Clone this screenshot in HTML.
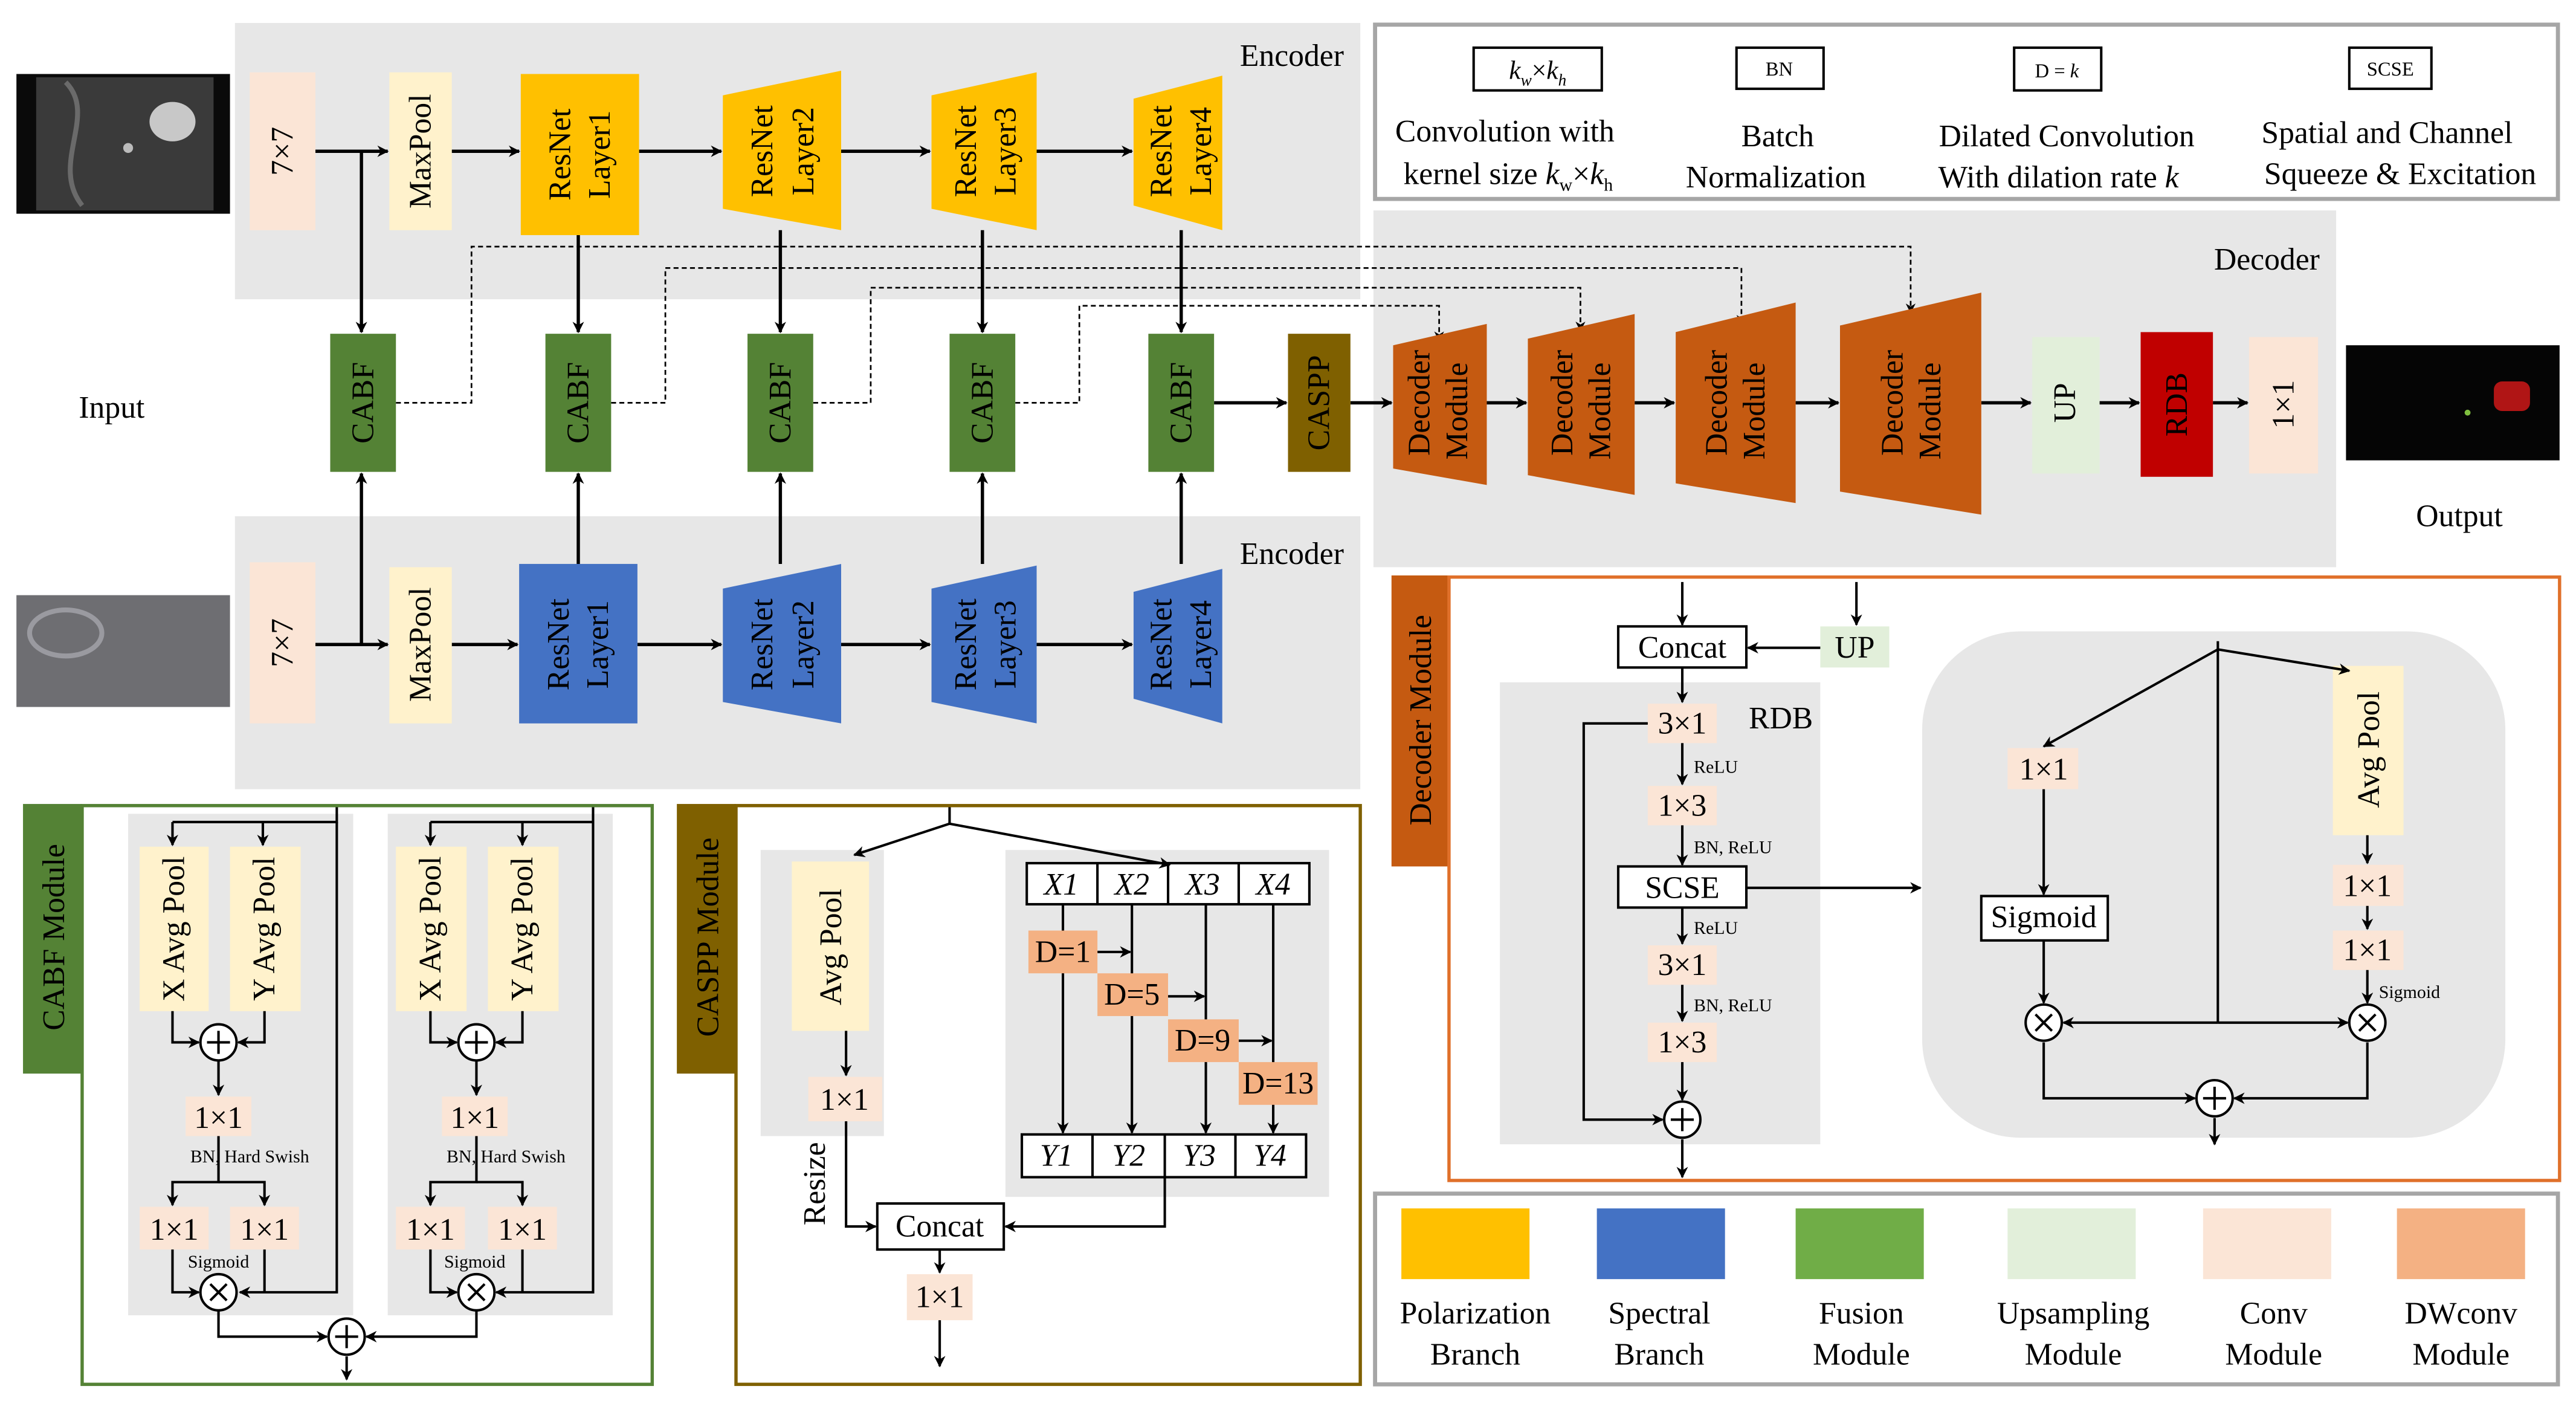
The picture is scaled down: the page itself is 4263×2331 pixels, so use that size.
<!DOCTYPE html>
<html><head><meta charset="utf-8"><style>
html,body{margin:0;padding:0;background:#fff}
svg{display:block}
svg, svg text{font-family:"Liberation Serif","DejaVu Serif",serif;fill:#000}
</style></head><body>
<svg width="4263" height="2331" viewBox="0 0 1568 857" preserveAspectRatio="none" xmlns="http://www.w3.org/2000/svg" font-family="Liberation Serif, serif">
<defs>
<marker id="a" viewBox="0 0 10 10" refX="9" refY="5" markerWidth="7" markerHeight="7" orient="auto" markerUnits="userSpaceOnUse"><path d="M0,0 L10,5 L0,10 L3,5 z" fill="#000"/></marker>
<marker id="s" viewBox="0 0 10 10" refX="9" refY="5" markerWidth="6" markerHeight="6" orient="auto" markerUnits="userSpaceOnUse"><path d="M0,0 L10,5 L0,10 L3,5 z" fill="#000"/></marker>
</defs>
<rect width="1568" height="857" fill="#fff"/>

<rect x="143" y="14" width="685" height="168" fill="#e7e7e7"/>
<rect x="143" y="314" width="685" height="166" fill="#e7e7e7"/>
<rect x="836" y="128" width="586" height="217" fill="#e7e7e7"/>
<text x="818" y="40" font-size="19" text-anchor="end">Encoder</text>
<text x="818" y="343" font-size="19" text-anchor="end">Encoder</text>
<text x="1412" y="164" font-size="19" text-anchor="end">Decoder</text>

<rect x="837" y="15" width="720" height="106" fill="#fff" stroke="#a6a6a6" stroke-width="2.5"/>
<rect x="897" y="29" width="78" height="26" fill="#fff" stroke="#000" stroke-width="1.5"/>
<text x="936" y="48" font-size="16" text-anchor="middle" font-style="italic">k<tspan font-size="10" dy="4">w</tspan><tspan dy="-4" font-style="normal">×</tspan>k<tspan font-size="10" dy="4">h</tspan></text>
<rect x="1057" y="29" width="53" height="25" fill="#fff" stroke="#000" stroke-width="1.5"/>
<text x="1083" y="46" font-size="12" text-anchor="middle">BN</text>
<rect x="1226" y="29" width="53" height="26" fill="#fff" stroke="#000" stroke-width="1.5"/>
<text x="1252" y="47" font-size="12" text-anchor="middle">D = <tspan font-style="italic">k</tspan></text>
<rect x="1430" y="29" width="50" height="25" fill="#fff" stroke="#000" stroke-width="1.5"/>
<text x="1455" y="46" font-size="12" text-anchor="middle">SCSE</text>
<g font-size="19" text-anchor="middle">
<text x="916" y="86">Convolution with</text>
<text x="918" y="112">kernel size  <tspan font-style="italic">k</tspan><tspan font-size="11" dy="4">w</tspan><tspan dy="-4">×</tspan><tspan font-style="italic">k</tspan><tspan font-size="11" dy="4">h</tspan></text>
<text x="1082" y="89">Batch</text>
<text x="1081" y="114">Normalization</text>
<text x="1258" y="89">Dilated Convolution</text>
<text x="1253" y="114">With dilation rate  <tspan font-style="italic">k</tspan></text>
<text x="1453" y="87">Spatial and Channel</text>
<text x="1461" y="112">Squeeze &amp; Excitation</text>
</g>

<rect x="10" y="45" width="130" height="85" fill="#0a0a0a"/>
<rect x="22" y="47" width="108" height="81" fill="#3a3a3a"/>
<path d="M40,50 C60,70 30,100 50,125" stroke="#6a6a6a" stroke-width="3" fill="none"/>
<ellipse cx="105" cy="74" rx="14" ry="12" fill="#c8c8c8"/>
<circle cx="78" cy="90" r="3" fill="#bbb"/>
<rect x="10" y="362" width="130" height="68" fill="#6e6e72"/>
<ellipse cx="40" cy="385" rx="22" ry="14" fill="none" stroke="#9a9aa0" stroke-width="3"/>
<text x="68" y="254" font-size="19" text-anchor="middle">Input</text>
<rect x="1428" y="210" width="130" height="70" fill="#050505"/>
<rect x="1518" y="232" width="22" height="18" rx="5" fill="#b01515"/>
<circle cx="1502" cy="251" r="1.8" fill="#7fbf3f"/>
<text x="1497" y="320" font-size="19" text-anchor="middle">Output</text>

<g stroke="#000" stroke-width="2" fill="none" marker-end="url(#a)">
<line x1="192" y1="92" x2="236" y2="92"/>
<line x1="275" y1="92" x2="316" y2="92"/>
<line x1="389" y1="92" x2="439" y2="92"/>
<line x1="512" y1="92" x2="566" y2="92"/>
<line x1="631" y1="92" x2="689" y2="92"/>
<line x1="192" y1="392" x2="236" y2="392"/>
<line x1="275" y1="392" x2="315" y2="392"/>
<line x1="388" y1="392" x2="439" y2="392"/>
<line x1="512" y1="392" x2="566" y2="392"/>
<line x1="631" y1="392" x2="689" y2="392"/>
<line x1="220" y1="92" x2="220" y2="202"/>
<line x1="220" y1="392" x2="220" y2="288"/>
<line x1="352" y1="143" x2="352" y2="202"/>
<line x1="352" y1="343" x2="352" y2="288"/>
<line x1="475" y1="140" x2="475" y2="202"/>
<line x1="475" y1="343" x2="475" y2="288"/>
<line x1="598" y1="140" x2="598" y2="202"/>
<line x1="598" y1="343" x2="598" y2="288"/>
<line x1="719" y1="140" x2="719" y2="202"/>
<line x1="719" y1="343" x2="719" y2="288"/>
<line x1="739" y1="245" x2="783" y2="245"/>
<line x1="822" y1="245" x2="847" y2="245"/>
<line x1="905" y1="245" x2="929" y2="245"/>
<line x1="995" y1="245" x2="1019" y2="245"/>
<line x1="1093" y1="245" x2="1119" y2="245"/>
<line x1="1206" y1="245" x2="1236" y2="245"/>
<line x1="1278" y1="245" x2="1302" y2="245"/>
<line x1="1347" y1="245" x2="1368" y2="245"/>
</g>
<g stroke="#000" stroke-width="1" fill="none" stroke-dasharray="3,2" marker-end="url(#s)">
<polyline points="241,245 287,245 287,150 1163,150 1163,190"/>
<polyline points="372,245 405,245 405,163 1060,163 1060,197"/>
<polyline points="495,245 530,245 530,175 962,175 962,201"/>
<polyline points="618,245 657,245 657,186 876,186 876,207"/>
</g>

<rect x="152" y="44" width="40" height="96" fill="#fbe5d6"/>
<rect x="237" y="44" width="38" height="96" fill="#fff2cc"/>
<rect x="317" y="45" width="72" height="98" fill="#ffc000"/>
<polygon points="440,58 512,43 512,140 440,127" fill="#ffc000"/>
<polygon points="567,58 631,44 631,140 567,127" fill="#ffc000"/>
<polygon points="690,60 744,46 744,140 690,125" fill="#ffc000"/>
<rect x="152" y="342" width="40" height="98" fill="#fbe5d6"/>
<rect x="237" y="345" width="38" height="95" fill="#fff2cc"/>
<rect x="316" y="343" width="72" height="97" fill="#4472c4"/>
<polygon points="440,358 512,343 512,440 440,427" fill="#4472c4"/>
<polygon points="567,358 631,344 631,440 567,427" fill="#4472c4"/>
<polygon points="690,360 744,346 744,440 690,425" fill="#4472c4"/>
<g font-size="19" text-anchor="middle" dominant-baseline="central">
<text transform="translate(172,92) rotate(-90)">7×7</text>
<text transform="translate(256,92) rotate(-90)">MaxPool</text>
<text transform="translate(341,94) rotate(-90)">ResNet</text><text transform="translate(365,94) rotate(-90)">Layer1</text>
<text transform="translate(464,92) rotate(-90)">ResNet</text><text transform="translate(489,92) rotate(-90)">Layer2</text>
<text transform="translate(588,92) rotate(-90)">ResNet</text><text transform="translate(612,92) rotate(-90)">Layer3</text>
<text transform="translate(707,92) rotate(-90)">ResNet</text><text transform="translate(731,92) rotate(-90)">Layer4</text>
<text transform="translate(172,391) rotate(-90)">7×7</text>
<text transform="translate(256,392) rotate(-90)">MaxPool</text>
<text transform="translate(340,392) rotate(-90)">ResNet</text><text transform="translate(364,392) rotate(-90)">Layer1</text>
<text transform="translate(464,392) rotate(-90)">ResNet</text><text transform="translate(489,392) rotate(-90)">Layer2</text>
<text transform="translate(588,392) rotate(-90)">ResNet</text><text transform="translate(612,392) rotate(-90)">Layer3</text>
<text transform="translate(707,392) rotate(-90)">ResNet</text><text transform="translate(731,392) rotate(-90)">Layer4</text>
</g>

<g fill="#548235">
<rect x="201" y="203" width="40" height="84"/>
<rect x="332" y="203" width="40" height="84"/>
<rect x="455" y="203" width="40" height="84"/>
<rect x="578" y="203" width="40" height="84"/>
<rect x="699" y="203" width="40" height="84"/>
</g>
<rect x="784" y="203" width="38" height="84" fill="#7f6000"/>
<g font-size="19" text-anchor="middle" dominant-baseline="central">
<text transform="translate(221,245) rotate(-90)">CABF</text>
<text transform="translate(352,245) rotate(-90)">CABF</text>
<text transform="translate(475,245) rotate(-90)">CABF</text>
<text transform="translate(598,245) rotate(-90)">CABF</text>
<text transform="translate(719,245) rotate(-90)">CABF</text>
<text transform="translate(803,245) rotate(-90)">CASPP</text>
</g>

<g fill="#c55a11">
<polygon points="848,210 905,197 905,295 848,285"/>
<polygon points="930,206 995,191 995,301 930,289"/>
<polygon points="1020,202 1093,184 1093,306 1020,294"/>
<polygon points="1120,198 1206,178 1206,313 1120,299"/>
</g>
<rect x="1237" y="205" width="41" height="83" fill="#e2efda"/>
<rect x="1303" y="202" width="44" height="88" fill="#c00000"/>
<rect x="1369" y="205" width="42" height="83" fill="#fbe5d6"/>
<g font-size="19" text-anchor="middle" dominant-baseline="central">
<text transform="translate(864,245) rotate(-90)">Decoder</text><text transform="translate(887,250) rotate(-90)">Module</text>
<text transform="translate(951,245) rotate(-90)">Decoder</text><text transform="translate(974,250) rotate(-90)">Module</text>
<text transform="translate(1045,245) rotate(-90)">Decoder</text><text transform="translate(1068,250) rotate(-90)">Module</text>
<text transform="translate(1152,245) rotate(-90)">Decoder</text><text transform="translate(1175,250) rotate(-90)">Module</text>
<text transform="translate(1257,245) rotate(-90)">UP</text>
<text transform="translate(1325,246) rotate(-90)">RDB</text>
<text transform="translate(1390,246) rotate(-90)">1×1</text>
</g>

<!-- CABF Module -->
<rect x="14" y="489" width="36" height="164" fill="#548235"/>
<text transform="translate(33,570) rotate(-90)" font-size="19" text-anchor="middle" dominant-baseline="central">CABF Module</text>
<rect x="50" y="490" width="347" height="352" fill="none" stroke="#548235" stroke-width="2"/>
<rect x="78" y="495" width="137" height="305" fill="#e7e7e7"/>
<rect x="236" y="495" width="137" height="305" fill="#e7e7e7"/>
<g fill="#fff2cc"><rect x="85" y="515" width="42" height="100"/><rect x="140" y="515" width="43" height="100"/><rect x="241" y="515" width="43" height="100"/><rect x="297" y="515" width="43" height="100"/></g>
<g fill="#fbe5d6"><rect x="113" y="667" width="40" height="24"/><rect x="85" y="734" width="42" height="26"/><rect x="140" y="734" width="42" height="26"/><rect x="269" y="667" width="40" height="24"/><rect x="241" y="734" width="42" height="26"/><rect x="297" y="734" width="42" height="26"/></g>
<g font-size="19" text-anchor="middle" dominant-baseline="central">
<text transform="translate(106,565) rotate(-90)">X Avg Pool</text>
<text transform="translate(161,565) rotate(-90)">Y Avg Pool</text>
<text transform="translate(262,565) rotate(-90)">X Avg Pool</text>
<text transform="translate(318,565) rotate(-90)">Y Avg Pool</text>
<text x="133" y="680">1×1</text><text x="106" y="748">1×1</text><text x="161" y="748">1×1</text>
<text x="289" y="680">1×1</text><text x="262" y="748">1×1</text><text x="318" y="748">1×1</text>
</g>
<g font-size="11" text-anchor="middle"><text x="152" y="707">BN, Hard Swish</text><text x="308" y="707">BN, Hard Swish</text><text x="133" y="771">Sigmoid</text><text x="289" y="771">Sigmoid</text></g>
<g stroke="#000" stroke-width="1.5" fill="none">
<polyline points="205,491 205,500 105,500" /><polyline points="205,500 205,786 146,786" marker-end="url(#a)"/>
<line x1="105" y1="500" x2="105" y2="514" marker-end="url(#a)"/><line x1="160" y1="500" x2="160" y2="514" marker-end="url(#a)"/>
<polyline points="105,615 105,634 121,634" marker-end="url(#a)"/><polyline points="161,615 161,634 145,634" marker-end="url(#a)"/>
<line x1="133" y1="645" x2="133" y2="666" marker-end="url(#a)"/>
<polyline points="133,691 133,719 105,719 105,733" marker-end="url(#a)"/><polyline points="133,719 161,719 161,733" marker-end="url(#a)"/>
<polyline points="105,760 105,786 121,786" marker-end="url(#a)"/><line x1="161" y1="760" x2="161" y2="786"/>
<polyline points="361,491 361,500 262,500"/><polyline points="361,500 361,786 302,786" marker-end="url(#a)"/>
<line x1="262" y1="500" x2="262" y2="514" marker-end="url(#a)"/><line x1="318" y1="500" x2="318" y2="514" marker-end="url(#a)"/>
<polyline points="262,615 262,634 278,634" marker-end="url(#a)"/><polyline points="318,615 318,634 302,634" marker-end="url(#a)"/>
<line x1="290" y1="645" x2="290" y2="666" marker-end="url(#a)"/>
<polyline points="290,691 290,719 262,719 262,733" marker-end="url(#a)"/><polyline points="290,719 318,719 318,733" marker-end="url(#a)"/>
<polyline points="262,760 262,786 278,786" marker-end="url(#a)"/><line x1="318" y1="760" x2="318" y2="786"/>
<polyline points="133,797 133,813 199,813" marker-end="url(#a)"/><polyline points="290,797 290,813 223,813" marker-end="url(#a)"/>
<line x1="211" y1="825" x2="211" y2="839" marker-end="url(#a)"/>
</g>
<g fill="#fff" stroke="#000" stroke-width="1.5">
<circle cx="133" cy="634" r="11"/><circle cx="290" cy="634" r="11"/><circle cx="133" cy="786" r="11"/><circle cx="290" cy="786" r="11"/><circle cx="211" cy="813" r="11"/>
</g>
<g stroke="#000" stroke-width="1.5">
<path d="M126,634h14M133,627v14M283,634h14M290,627v14M204,813h14M211,806v14M128,781l10,10M138,781l-10,10M285,781l10,10M295,781l-10,10"/>
</g>

<!-- CASPP Module -->
<rect x="412" y="489" width="36" height="164" fill="#7f6000"/>
<text transform="translate(431,570) rotate(-90)" font-size="19" text-anchor="middle" dominant-baseline="central">CASPP Module</text>
<rect x="448" y="490" width="380" height="352" fill="none" stroke="#7f6000" stroke-width="2"/>
<rect x="463" y="517" width="75" height="174" fill="#e7e7e7"/>
<rect x="612" y="517" width="197" height="211" fill="#e7e7e7"/>
<rect x="482" y="524" width="47" height="103" fill="#fff2cc"/>
<rect x="492" y="655" width="45" height="27" fill="#fbe5d6"/>
<rect x="552" y="775" width="40" height="28" fill="#fbe5d6"/>
<g fill="#fff" stroke="#000" stroke-width="1.5">
<rect x="625" y="525" width="172" height="25"/><rect x="622" y="690" width="173" height="26"/><rect x="534" y="732" width="77" height="28"/>
</g>
<g stroke="#000" stroke-width="1.5"><path d="M668,525v25M711,525v25M754,525v25M665,690v26M709,690v26M752,690v26"/></g>
<g font-size="19" text-anchor="middle" dominant-baseline="central">
<text transform="translate(506,576) rotate(-90)">Avg Pool</text>
<text x="514" y="669">1×1</text><text x="572" y="789">1×1</text><text x="572" y="746">Concat</text>
<g font-style="italic"><text x="646" y="538">X1</text><text x="689" y="538">X2</text><text x="732" y="538">X3</text><text x="775" y="538">X4</text>
<text x="643" y="703">Y1</text><text x="687" y="703">Y2</text><text x="730" y="703">Y3</text><text x="773" y="703">Y4</text></g>
<text transform="translate(496,720) rotate(-90)">Resize</text>
</g>
<g stroke="#000" stroke-width="1.5" fill="none">
<line x1="578" y1="491" x2="578" y2="501"/>
<line x1="578" y1="501" x2="520" y2="520" marker-end="url(#a)"/><line x1="578" y1="501" x2="712" y2="526" marker-end="url(#a)"/>
<line x1="647" y1="550" x2="647" y2="689" marker-end="url(#a)"/>
<line x1="689" y1="550" x2="689" y2="689" marker-end="url(#a)"/>
<line x1="734" y1="550" x2="734" y2="689" marker-end="url(#a)"/>
<line x1="775" y1="550" x2="775" y2="689" marker-end="url(#a)"/>
<line x1="668" y1="579" x2="688" y2="579" marker-end="url(#a)"/>
<line x1="711" y1="606" x2="733" y2="606" marker-end="url(#a)"/>
<line x1="754" y1="633" x2="774" y2="633" marker-end="url(#a)"/>
<line x1="515" y1="627" x2="515" y2="654" marker-end="url(#a)"/>
<polyline points="515,682 515,746 533,746" marker-end="url(#a)"/>
<polyline points="709,716 709,746 612,746" marker-end="url(#a)"/>
<line x1="572" y1="760" x2="572" y2="774" marker-end="url(#a)"/>
<line x1="572" y1="803" x2="572" y2="831" marker-end="url(#a)"/>
</g>
<g fill="#f4b183"><rect x="626" y="566" width="42" height="26"/><rect x="668" y="592" width="43" height="26"/><rect x="711" y="620" width="43" height="26"/><rect x="754" y="646" width="48" height="26"/></g>
<g font-size="19" text-anchor="middle" dominant-baseline="central">
<text x="647" y="579">D=1</text><text x="689" y="605">D=5</text><text x="732" y="633">D=9</text><text x="778" y="659">D=13</text>
</g>

<!-- Decoder Module -->
<rect x="847" y="350" width="35" height="177" fill="#c55a11"/>
<text transform="translate(865,438) rotate(-90)" font-size="19" text-anchor="middle" dominant-baseline="central">Decoder Module</text>
<rect x="882" y="351" width="676" height="367" fill="none" stroke="#e0702a" stroke-width="2"/>
<rect x="913" y="415" width="195" height="281" fill="#e7e7e7"/>
<rect x="1170" y="384" width="355" height="308" rx="60" fill="#e7e7e7"/>
<rect x="1108" y="381" width="42" height="25" fill="#e2efda"/>
<g fill="#fbe5d6"><rect x="1003" y="428" width="42" height="24"/><rect x="1003" y="478" width="42" height="24"/><rect x="1003" y="575" width="42" height="24"/><rect x="1003" y="622" width="42" height="24"/><rect x="1222" y="455" width="43" height="25"/><rect x="1420" y="526" width="43" height="25"/><rect x="1420" y="566" width="43" height="24"/></g>
<rect x="1420" y="405" width="43" height="103" fill="#fff2cc"/>
<g fill="#fff" stroke="#000" stroke-width="1.5"><rect x="985" y="381" width="78" height="25"/><rect x="985" y="527" width="78" height="25"/><rect x="1206" y="545" width="77" height="27"/></g>
<g font-size="19" text-anchor="middle" dominant-baseline="central">
<text x="1024" y="394">Concat</text><text x="1129" y="394">UP</text>
<text x="1024" y="440">3×1</text><text x="1024" y="490">1×3</text><text x="1024" y="540">SCSE</text><text x="1024" y="587">3×1</text><text x="1024" y="634">1×3</text>
<text x="1084" y="437">RDB</text>
<text x="1244" y="468">1×1</text><text x="1244" y="558">Sigmoid</text>
<text x="1441" y="539">1×1</text><text x="1441" y="578">1×1</text>
<text transform="translate(1442,456) rotate(-90)">Avg Pool</text>
</g>
<g font-size="11"><text x="1031" y="470">ReLU</text><text x="1031" y="519">BN, ReLU</text><text x="1031" y="568">ReLU</text><text x="1031" y="615">BN, ReLU</text><text x="1448" y="607">Sigmoid</text></g>
<g stroke="#000" stroke-width="1.5" fill="none">
<line x1="1024" y1="354" x2="1024" y2="380" marker-end="url(#a)"/>
<line x1="1130" y1="354" x2="1130" y2="380" marker-end="url(#a)"/>
<line x1="1108" y1="394" x2="1064" y2="394" marker-end="url(#a)"/>
<line x1="1024" y1="406" x2="1024" y2="427" marker-end="url(#a)"/>
<line x1="1024" y1="452" x2="1024" y2="477" marker-end="url(#a)"/>
<line x1="1024" y1="502" x2="1024" y2="526" marker-end="url(#a)"/>
<line x1="1024" y1="552" x2="1024" y2="574" marker-end="url(#a)"/>
<line x1="1024" y1="599" x2="1024" y2="621" marker-end="url(#a)"/>
<line x1="1024" y1="646" x2="1024" y2="669" marker-end="url(#a)"/>
<polyline points="1003,440 964,440 964,681 1012,681" marker-end="url(#a)"/>
<line x1="1024" y1="693" x2="1024" y2="716" marker-end="url(#a)"/>
<line x1="1063" y1="540" x2="1169" y2="540" marker-end="url(#a)"/>
<line x1="1350" y1="390" x2="1350" y2="622"/>
<line x1="1350" y1="395" x2="1244" y2="454" marker-end="url(#a)"/>
<line x1="1350" y1="395" x2="1430" y2="408" marker-end="url(#a)"/>
<line x1="1244" y1="480" x2="1244" y2="544" marker-end="url(#a)"/>
<line x1="1244" y1="572" x2="1244" y2="610" marker-end="url(#a)"/>
<line x1="1441" y1="508" x2="1441" y2="525" marker-end="url(#a)"/>
<line x1="1441" y1="551" x2="1441" y2="565" marker-end="url(#a)"/>
<line x1="1441" y1="590" x2="1441" y2="610" marker-end="url(#a)"/>
<line x1="1350" y1="622" x2="1256" y2="622" marker-end="url(#a)"/>
<line x1="1350" y1="622" x2="1429" y2="622" marker-end="url(#a)"/>
<polyline points="1244,634 1244,668 1336,668" marker-end="url(#a)"/>
<polyline points="1441,634 1441,668 1360,668" marker-end="url(#a)"/>
<line x1="1348" y1="680" x2="1348" y2="696" marker-end="url(#a)"/>
</g>
<g fill="#fff" stroke="#000" stroke-width="1.5"><circle cx="1024" cy="681" r="11"/><circle cx="1244" cy="622" r="11"/><circle cx="1441" cy="622" r="11"/><circle cx="1348" cy="668" r="11"/></g>
<g stroke="#000" stroke-width="1.5"><path d="M1017,681h14M1024,674v14M1341,668h14M1348,661v14M1239,617l10,10M1249,617l-10,10M1436,617l10,10M1446,617l-10,10"/></g>

<rect x="837" y="726" width="720" height="116" fill="#fff" stroke="#a6a6a6" stroke-width="2.5"/>
<rect x="853" y="735" width="78" height="43" fill="#ffc000"/>
<rect x="972" y="735" width="78" height="43" fill="#4472c4"/>
<rect x="1093" y="735" width="78" height="43" fill="#70ad47"/>
<rect x="1222" y="735" width="78" height="43" fill="#e2efda"/>
<rect x="1341" y="735" width="78" height="43" fill="#fbe5d6"/>
<rect x="1459" y="735" width="78" height="43" fill="#f4b183"/>
<g font-size="19" text-anchor="middle">
<text x="898" y="805">Polarization</text><text x="898" y="830">Branch</text>
<text x="1010" y="805">Spectral</text><text x="1010" y="830">Branch</text>
<text x="1133" y="805">Fusion</text><text x="1133" y="830">Module</text>
<text x="1262" y="805">Upsampling</text><text x="1262" y="830">Module</text>
<text x="1384" y="805">Conv</text><text x="1384" y="830">Module</text>
<text x="1498" y="805">DWconv</text><text x="1498" y="830">Module</text>
</g>
</svg>
</body></html>
